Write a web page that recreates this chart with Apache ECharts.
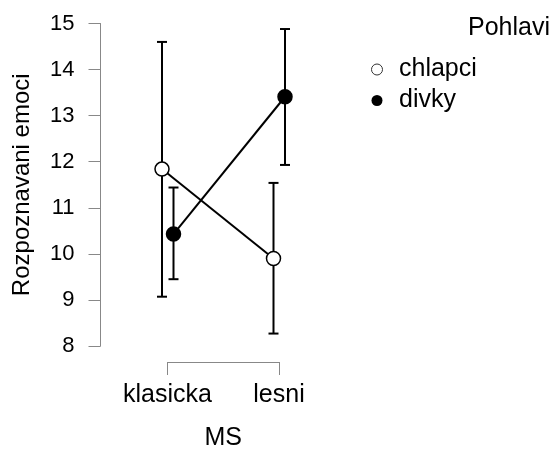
<!DOCTYPE html>
<html>
<head>
<meta charset="utf-8">
<script src="https://cdn.jsdelivr.net/npm/echarts@6/dist/echarts.min.js"></script>
<style>
html,body{margin:0;padding:0;background:#fff;}
#chart{width:553px;height:451px;}
</style>
</head>
<body>
<div id="chart"></div>
<script>
const categories = ['klasicka', 'lesni'];
const yTicks = [8, 9, 10, 11, 12, 13, 14, 15];
const chlapciMean = [11.84, 9.90];
const chlapciLower = [9.07, 8.27];
const chlapciUpper = [14.60, 11.54];
const divkyMean = [10.43, 13.41];
const divkyLower = [9.45, 11.93];
const divkyUpper = [11.44, 14.88];

const FONT = 'Liberation Sans, Arial, sans-serif';

function makeRender(mean, lower, upper, dx, fill) {
  return function (params, api) {
    const i = params.dataIndex;
    const c = api.coord([i, mean[i]]);
    const top = api.coord([i, upper[i]]);
    const bot = api.coord([i, lower[i]]);
    const x = c[0] + dx;
    const children = [];
    const stroke = { stroke: '#000', lineWidth: 2 };
    if (i > 0) {
      const p = api.coord([i - 1, mean[i - 1]]);
      children.push({ type: 'line', shape: { x1: p[0] + dx, y1: p[1], x2: x, y2: c[1] }, style: stroke, z2: 1 });
    }
    children.push({ type: 'line', shape: { x1: x, y1: top[1], x2: x, y2: bot[1] }, style: stroke, z2: 2 });
    children.push({ type: 'line', shape: { x1: x - 5, y1: top[1], x2: x + 5, y2: top[1] }, style: stroke, z2: 2 });
    children.push({ type: 'line', shape: { x1: x - 5, y1: bot[1], x2: x + 5, y2: bot[1] }, style: stroke, z2: 2 });
    children.push({ type: 'circle', shape: { cx: x, cy: c[1], r: 7 }, style: { fill: fill, stroke: '#000', lineWidth: 1.5 }, z2: 3 });
    return { type: 'group', children: children };
  };
}

const chart = echarts.init(document.getElementById('chart'), null, { renderer: 'canvas' });
chart.setOption({
  backgroundColor: '#fff',
  animation: false,
  textStyle: { fontFamily: FONT },
  title: {
    text: 'Pohlavi',
    right: 3,
    top: 16,
    padding: 0,
    textStyle: { fontFamily: FONT, fontSize: 25, fontWeight: 'normal', color: '#000' }
  },
  legend: {
    orient: 'vertical',
    left: 371,
    top: 57,
    padding: 0,
    itemWidth: 22,
    itemHeight: 11,
    itemGap: 6,
    textStyle: { fontFamily: FONT, fontSize: 25, color: '#000', lineHeight: 25, padding: [0, 0, 0, 6] },
    data: [
      { name: 'chlapci', icon: 'circle', itemStyle: { color: '#fff', borderColor: '#333', borderWidth: 1 } },
      { name: 'divky', icon: 'circle', itemStyle: { color: '#000', borderColor: '#000', borderWidth: 0 } }
    ]
  },
  grid: {
    left: 167.5,
    width: 111.5,
    top: 23.5,
    height: 322.5,
    outerBoundsMode: 'none',
    containLabel: false
  },
  xAxis: {
    type: 'category',
    data: categories,
    boundaryGap: false,
    offset: 16,
    name: 'MS',
    nameLocation: 'middle',
    nameGap: 64,
    nameTextStyle: { fontFamily: FONT, fontSize: 25, color: '#000' },
    axisLine: { show: true, lineStyle: { color: '#888', width: 1 } },
    axisTick: { show: true, inside: false, length: 13, interval: 0, lineStyle: { color: '#888', width: 1 } },
    axisLabel: { fontFamily: FONT, fontSize: 25, color: '#000', margin: 21, interval: 0, hideOverlap: false },
    splitLine: { show: false }
  },
  yAxis: {
    type: 'value',
    min: yTicks[0],
    max: yTicks[yTicks.length - 1],
    interval: 1,
    offset: 67,
    name: 'Rozpoznavani emoci',
    nameLocation: 'middle',
    nameGap: 66,
    nameTextStyle: { fontFamily: FONT, fontSize: 24, color: '#000' },
    axisLine: { show: true, lineStyle: { color: '#888', width: 1 } },
    axisTick: { show: true, inside: false, length: 12, lineStyle: { color: '#888', width: 1 } },
    axisLabel: { fontFamily: FONT, fontSize: 22, color: '#000', margin: 26 },
    splitLine: { show: false }
  },
  series: [
    {
      name: 'chlapci',
      type: 'custom',
      clip: false,
      renderItem: makeRender(chlapciMean, chlapciLower, chlapciUpper, -5.5, '#fff'),
      data: chlapciMean.map((v, i) => [i, v]),
      z: 2
    },
    {
      name: 'divky',
      type: 'custom',
      clip: false,
      renderItem: makeRender(divkyMean, divkyLower, divkyUpper, 6, '#000'),
      data: divkyMean.map((v, i) => [i, v]),
      z: 3
    }
  ]
});
</script>
</body>
</html>
